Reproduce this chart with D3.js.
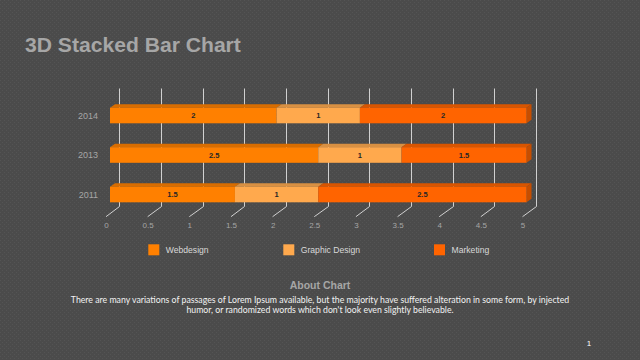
<!DOCTYPE html>
<html><head><meta charset="utf-8">
<script src="https://cdn.jsdelivr.net/npm/d3@7"></script>
<style>html,body{margin:0;padding:0;background:#4b4b4b;}svg{display:block;}</style>
</head><body>
<svg id="c" width="640" height="360"></svg>
<script>
const categories = ["2014", "2013", "2011"];
const seriesNames = ["Webdesign", "Graphic Design", "Marketing"];
const webdesign = [2, 2.5, 1.5];
const graphicDesign = [1, 1, 1];
const marketing = [2, 1.5, 2.5];
const xTicks = [0, 0.5, 1, 1.5, 2, 2.5, 3, 3.5, 4, 4.5, 5];
const colors = ["#ff8000", "#ffa94d", "#ff6400"];

const svg = d3.select("#c");
const defs = svg.append("defs");
const pat = defs.append("pattern").attr("id","tex").attr("width",4).attr("height",4).attr("patternUnits","userSpaceOnUse");
pat.append("rect").attr("width",4).attr("height",4).attr("fill","#4b4b4b");
pat.append("rect").attr("x",0).attr("y",0).attr("width",1).attr("height",1).attr("fill","#545454");
pat.append("rect").attr("x",2).attr("y",2).attr("width",1).attr("height",1).attr("fill","#545454");
svg.append("rect").attr("width",640).attr("height",360).attr("fill","url(#tex)");

const title = svg.append("text").attr("x",25).attr("y",51.5).attr("font-family","Liberation Sans, Arial, sans-serif")
  .attr("font-weight","bold").attr("font-size",21.5).attr("fill","#a6a6a6").text("3D Stacked Bar Chart");
const tw = title.node().getComputedTextLength();
title.attr("font-size", 21.5*216/tw);

const data = categories.map((c,i)=>({cat:c, "Webdesign":webdesign[i], "Graphic Design":graphicDesign[i], "Marketing":marketing[i]}));
const x = d3.scaleLinear().domain([0,5]).range([110,526.5]);
const y = d3.scalePoint().domain(categories).range([115.5,194.5]);
const barH = 15.6, ddx = 5, ddy = -3.5;
const wallDx = 9.4, floorDx = -4, wallTop = 88.5, wallBot = 206.5, floorY = 216.7;

const g = svg.append("g").attr("stroke","#d0d0d0").attr("stroke-width",1).attr("fill","none");
xTicks.forEach(v=>{
  const bx = Math.round(x(v)+wallDx)+0.5;
  g.append("path").attr("d",`M${bx},${wallTop}V${wallBot}L${x(v)+floorDx},${floorY}`);
});

const axis = d3.axisBottom(x).tickValues(xTicks).tickSize(0).tickPadding(0).tickFormat(d3.format("~g"));
const ax = svg.append("g").attr("transform",`translate(${floorDx},222)`).call(axis);
ax.select(".domain").remove();
ax.selectAll("text").attr("fill","#a6a6a6").attr("font-size",8).attr("font-family","Liberation Sans, Arial, sans-serif");

const ay = d3.axisLeft(y).tickSize(0).tickPadding(0);
const ayg = svg.append("g").attr("transform","translate(98,0)").call(ay);
ayg.select(".domain").remove();
ayg.selectAll("text").attr("fill","#a6a6a6").attr("font-size",9).attr("font-family","Liberation Sans, Arial, sans-serif");

const stack = d3.stack().keys(seriesNames)(data);
const bars = svg.append("g");
stack.forEach((layer,si)=>{
  const col = colors[si];
  layer.forEach(d=>{
    const x0 = x(d[0]), x1 = x(d[1]);
    const yt = y(d.data.cat) - barH/2;
    const gg = bars.append("g");
    gg.append("path").attr("d",`M${x0},${yt}L${x0+ddx},${yt+ddy}L${x1+ddx},${yt+ddy}L${x1},${yt}Z`)
      .attr("fill",d3.color(col).darker(0.45));
    if (si === stack.length-1) {
      gg.append("path").attr("d",`M${x1},${yt}L${x1+ddx},${yt+ddy}L${x1+ddx},${yt+ddy+barH}L${x1},${yt+barH}Z`)
        .attr("fill",d3.color(col).darker(0.7));
    }
    gg.append("rect").attr("x",x0).attr("y",yt).attr("width",x1-x0).attr("height",barH).attr("fill",col);
    gg.append("text").attr("x",(x0+x1)/2).attr("y",yt+barH/2+2.7).attr("text-anchor","middle")
      .attr("font-family","Liberation Sans, Arial, sans-serif").attr("font-weight","bold").attr("font-size",7.5)
      .attr("fill","#262626").text(d[1]-d[0]);
  });
});

const legX = [148.3, 283.3, 434];
const leg = svg.append("g");
seriesNames.forEach((n,i)=>{
  leg.append("rect").attr("x",legX[i]).attr("y",244.3).attr("width",11).attr("height",11).attr("fill",colors[i]);
  leg.append("text").attr("x",legX[i]+17.5).attr("y",253.2).attr("font-family","Liberation Sans, Arial, sans-serif")
    .attr("font-size",8.6).attr("fill","#d9d9d9").text(n);
});

svg.append("text").attr("x",320).attr("y",289).attr("text-anchor","middle").attr("font-family","Liberation Sans, Arial, sans-serif")
  .attr("font-weight","bold").attr("font-size",10.5).attr("fill","#a6a6a6").text("About Chart");
const lines = ["There are many variations of passages of Lorem Ipsum available, but the majority have suffered alteration in some form, by injected",
  "humor, or randomized words which don't look even slightly believable."];
const t1 = svg.append("text").attr("x",320).attr("y",302.5).attr("text-anchor","middle").attr("font-family","Lato, sans-serif")
  .attr("font-size",9.5).attr("fill","#f2f2f2").text(lines[0]);
const w = t1.node().getComputedTextLength();
const fs = 9.5*499/w;
t1.attr("font-size",fs);
svg.append("text").attr("x",320).attr("y",312.5).attr("text-anchor","middle").attr("font-family","Lato, sans-serif")
  .attr("font-size",fs).attr("fill","#f2f2f2").text(lines[1]);

svg.append("text").attr("x",589).attr("y",346).attr("text-anchor","middle").attr("font-family","Liberation Sans, Arial, sans-serif")
  .attr("font-size",8).attr("fill","#ffffff").text("1");
</script>
</body></html>
